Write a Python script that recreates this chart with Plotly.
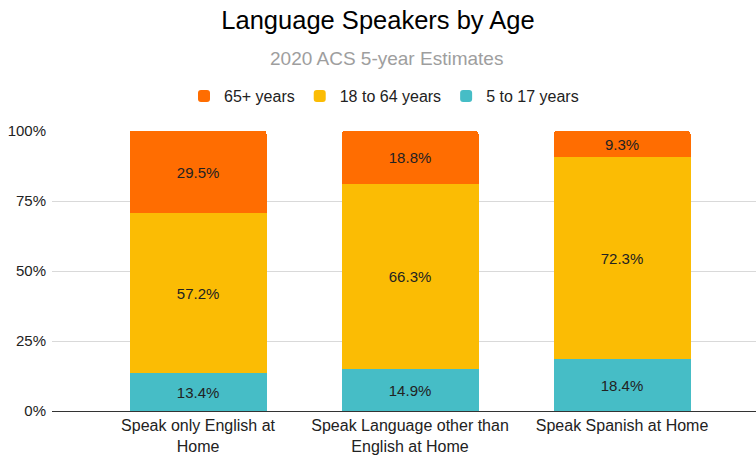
import plotly.graph_objects as go

categories = [
    "Speak only English at<br>Home",
    "Speak Language other than<br>English at Home",
    "Speak Spanish at Home",
]
age_5_17 = [13.4, 14.9, 18.4]
age_18_64 = [57.2, 66.3, 72.3]
age_65_plus = [29.5, 18.8, 9.3]

y_ticks = [0, 25, 50, 75, 100]
y_tick_labels = ["0%", "25%", "50%", "75%", "100%"]

series = [
    ("5 to 17 years", age_5_17, "#46BDC6"),
    ("18 to 64 years", age_18_64, "#FBBC04"),
    ("65+ years", age_65_plus, "#FF6D01"),
]

FONT = "Arial, Liberation Sans, sans-serif"

fig = go.Figure()
for name, vals, color in series:
    fig.add_trace(go.Bar(
        x=categories,
        y=vals,
        name=name,
        marker=dict(color=color, line=dict(width=0)),
        width=0.646,
        text=[f"{v:.1f}%" for v in vals],
        textposition="inside",
        insidetextanchor="middle",
        textangle=0,
        constraintext="none",
        textfont=dict(size=15, color="#222222", family=FONT),
        hoverinfo="skip",
    ))

# plot area spans y=131..411 px in a 459 px tall canvas
PLOT_TOP, PLOT_BOTTOM = 131, 411
def paper_y(px):
    return (PLOT_BOTTOM - px) / (PLOT_BOTTOM - PLOT_TOP)

fig.update_layout(
    barmode="stack",
    barcornerradius=3,
    width=756,
    height=459,
    margin=dict(l=52, r=0, t=131, b=48),
    paper_bgcolor="white",
    plot_bgcolor="white",
    font=dict(family=FONT, color="#222222"),
    title=dict(
        text="Language Speakers by Age",
        x=0.5, xanchor="center",
        y=1 - 20 / 459, yanchor="middle", yref="container",
        font=dict(size=25.5, color="#000000", family=FONT),
    ),
    legend=dict(
        orientation="h",
        x=(384 - 52) / 704, xanchor="center",
        y=1 - 96 / 459, yanchor="middle", yref="container",
        traceorder="reversed",
        font=dict(size=16, color="#222222"),
    ),
    annotations=[dict(
        text="2020 ACS 5-year Estimates",
        xref="paper", yref="paper",
        x=(386 - 52) / 704, y=paper_y(58),
        xanchor="center", yanchor="middle",
        showarrow=False,
        font=dict(size=19, color="#9e9e9e", family=FONT),
    )],
    xaxis=dict(
        range=[-0.689, 2.632],
        showgrid=False,
        showline=True, linecolor="#333333", linewidth=1,
        ticks="",
        tickfont=dict(size=16, color="#222222"),
    ),
    yaxis=dict(
        range=[0, 100],
        tickmode="array",
        tickvals=y_ticks,
        ticktext=y_tick_labels,
        showgrid=True, gridcolor="#d9d9d9", gridwidth=1,
        zeroline=False,
        ticklabelstandoff=5,
        tickfont=dict(size=15, color="#222222"),
    ),
    showlegend=True,
)

fig.write_html("out.html")
